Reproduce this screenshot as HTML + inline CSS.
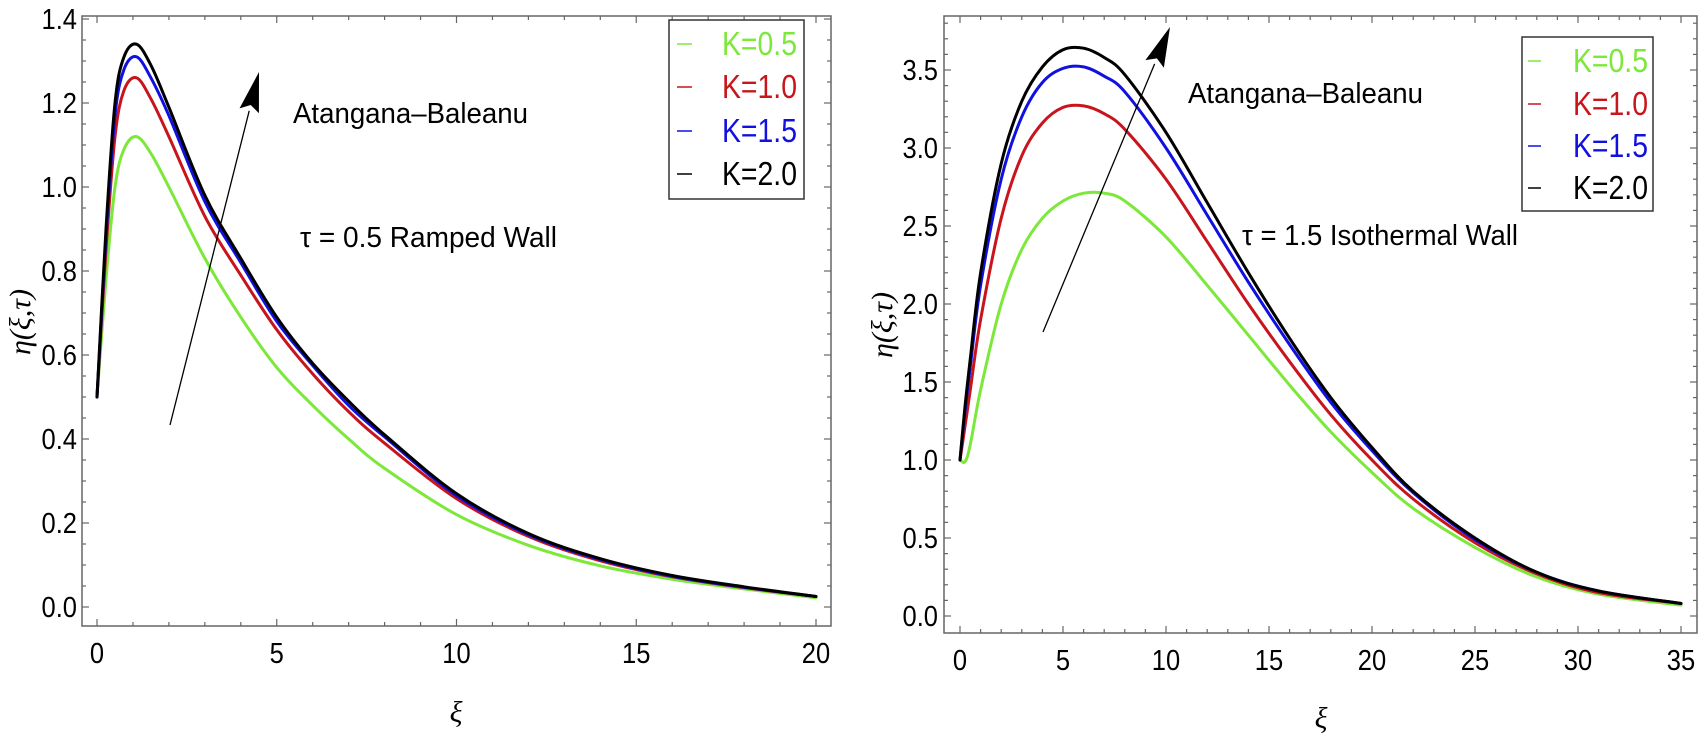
<!DOCTYPE html>
<html><head><meta charset="utf-8"><style>
html,body{margin:0;padding:0;background:#fff;}
svg{display:block;font-family:"Liberation Sans",sans-serif;}
</style></head><body>
<svg id="chart" width="1705" height="736" viewBox="0 0 1705 736" xmlns="http://www.w3.org/2000/svg">
</svg>
<script>
// ---- Left panel data (tau = 0.5, ramped wall) ----
const leftXi = [0,0.25,0.5,0.75,1.1,1.5,2,3,4,5,6,7,8,10,12,14,16,18,20];
const leftK20 = [0.5,0.9,1.2,1.31,1.34,1.29,1.19,0.98,0.83,0.69,0.58,0.49,0.41,0.27,0.175,0.115,0.075,0.048,0.025];
const leftK15 = [0.5,0.88,1.17,1.28,1.31,1.26,1.17,0.965,0.82,0.68,0.575,0.48,0.405,0.265,0.172,0.113,0.073,0.047,0.025];
const leftK10 = [0.5,0.85,1.12,1.23,1.26,1.21,1.12,0.93,0.79,0.66,0.555,0.465,0.39,0.258,0.168,0.11,0.072,0.046,0.025];
const leftK05 = [0.5,0.78,1.0,1.09,1.12,1.08,1.0,0.83,0.69,0.57,0.48,0.40,0.33,0.22,0.147,0.098,0.066,0.043,0.022];
const leftXTicks = [0,5,10,15,20];
const leftYTicks = [0.0,0.2,0.4,0.6,0.8,1.0,1.2,1.4];
// ---- Right panel data (tau = 1.5, isothermal wall) ----
const rightXi = [0,0.25,0.5,1,2,3,4,5,6,7,8,10,12,14,16,18,20,22,25,28,31,35];
const rightK20 = [1.0,1.35,1.65,2.2,2.9,3.3,3.52,3.63,3.64,3.58,3.47,3.1,2.65,2.2,1.78,1.4,1.08,0.8,0.5,0.28,0.16,0.08];
const rightK15 = [1.0,1.32,1.6,2.12,2.8,3.2,3.42,3.51,3.52,3.46,3.36,3.0,2.57,2.14,1.74,1.37,1.06,0.79,0.49,0.28,0.16,0.08];
const rightK10 = [1.0,1.22,1.45,1.9,2.55,2.95,3.16,3.26,3.27,3.22,3.12,2.8,2.4,2.0,1.63,1.29,1.0,0.75,0.47,0.27,0.15,0.08];
const rightK05 = [1.0,0.99,1.1,1.45,2.0,2.35,2.55,2.66,2.71,2.71,2.66,2.43,2.12,1.8,1.48,1.18,0.92,0.69,0.44,0.25,0.14,0.07];
const rightXTicks = [0,5,10,15,20,25,30,35];
const rightYTicks = [0.0,0.5,1.0,1.5,2.0,2.5,3.0,3.5];
const legendLabels = ["K=0.5","K=1.0","K=1.5","K=2.0"];
const seriesColors = ["#7be83a","#c8141c","#1010e0","#000000"];

const NS="http://www.w3.org/2000/svg";
const svg=document.getElementById('chart');
function mk(tag,attrs,parent){const e=document.createElementNS(NS,tag);for(const k in attrs)e.setAttribute(k,attrs[k]);(parent||svg).appendChild(e);return e;}

function smoothPath(pts){
  let d='M'+pts[0][0].toFixed(1)+','+pts[0][1].toFixed(1);
  for(let i=0;i<pts.length-1;i++){
    const p0=pts[Math.max(0,i-1)],p1=pts[i],p2=pts[i+1],p3=pts[Math.min(pts.length-1,i+2)];
    const c1x=p1[0]+(p2[0]-p0[0])/6,c1y=p1[1]+(p2[1]-p0[1])/6;
    const c2x=p2[0]-(p3[0]-p1[0])/6,c2y=p2[1]-(p3[1]-p1[1])/6;
    d+=` C${c1x.toFixed(1)},${c1y.toFixed(1)} ${c2x.toFixed(1)},${c2y.toFixed(1)} ${p2[0].toFixed(1)},${p2[1].toFixed(1)}`;
  }
  return d;
}

function panel(cfg){
  const g=mk('g',{});
  
  
  const sx=v=>cfg.x0px+v*cfg.xs;
  const sy=v=>cfg.y0px-v*cfg.ys;
  const fr=mk('rect',{x:cfg.L,y:cfg.T,width:cfg.R-cfg.L,height:cfg.B-cfg.T,fill:'none',stroke:'#666','stroke-width':1.5},g);
  
  
  for(let v=cfg.xmin;v<=cfg.xmax+1e-9;v+=cfg.xminor){
    const major=Math.abs(v/cfg.xmajor-Math.round(v/cfg.xmajor))<1e-6;
    const len=major?7:4;const X=sx(v);
    mk('line',{x1:X,x2:X,y1:cfg.B,y2:cfg.B-len,stroke:'#666','stroke-width':1.2},g);
    mk('line',{x1:X,x2:X,y1:cfg.T,y2:cfg.T+len,stroke:'#666','stroke-width':1.2},g);
  }
  for(let v=cfg.ymin;v<=cfg.ymax+1e-9;v+=cfg.yminor){
    const major=Math.abs(v/cfg.ymajor-Math.round(v/cfg.ymajor))<1e-6;
    const len=major?7:4;const Y=sy(v);
    if(Y<cfg.T||Y>cfg.B)continue;
    mk('line',{x1:cfg.L,x2:cfg.L+len,y1:Y,y2:Y,stroke:'#666','stroke-width':1.2},g);
    mk('line',{x1:cfg.R,x2:cfg.R-len,y1:Y,y2:Y,stroke:'#666','stroke-width':1.2},g);
  }
  cfg.xticks.forEach(v=>{
    const t=mk('text',{x:sx(v),y:cfg.xLabY,'text-anchor':'middle','font-size':29,fill:'#000',transform:`translate(${sx(v)},0) scale(0.88,1) translate(${-sx(v)},0)`},g);
    t.textContent=String(v);
    
    
  });
  cfg.yticks.forEach(v=>{
    const t=mk('text',{x:cfg.yLabX,y:sy(v)+10,'text-anchor':'end','font-size':29,fill:'#000',transform:`translate(${cfg.yLabX},0) scale(0.88,1) translate(${-cfg.yLabX},0)`},g);
    t.textContent=v.toFixed(1);
    
    
  });
  cfg.series.forEach((s,i)=>{
    const pts=cfg.xs_data.map((x,j)=>[sx(x),sy(s[j])]);
    const p=mk('path',{d:smoothPath(pts),fill:'none',stroke:seriesColors[i],'stroke-width':3,'stroke-linejoin':'round','stroke-linecap':'round'},g);
    
    
  });
  const xt=mk('text',{x:cfg.xTitleX,y:cfg.xTitleY,'text-anchor':'middle','font-size':30,'font-style':'italic','font-family':'"Liberation Serif",serif'},g);
  xt.textContent='ξ';
  
  
  const yt=mk('text',{x:0,y:0,'text-anchor':'middle','font-size':30,'font-style':'italic','font-family':'"Liberation Serif",serif',transform:`translate(${cfg.yTitleX},${cfg.yTitleY}) rotate(-90)`},g);
  yt.textContent='η(ξ,τ)';
  
  
  const a=cfg.arrow;
  const dx=a[2]-a[0],dy=a[3]-a[1],L=Math.hypot(dx,dy),ux=dx/L,uy=dy/L;
  const hl=40,hw=10;
  const bx=a[2]-ux*hl,by=a[3]-uy*hl;
  const ar=mk('line',{x1:a[0],y1:a[1],x2:bx,y2:by,stroke:'#000','stroke-width':1.3},g);
  
  
  const hd=mk('polygon',{points:`${a[2]},${a[3]} ${bx-uy*hw},${by+ux*hw} ${bx+ux*6},${by+uy*6} ${bx+uy*hw},${by-ux*hw}`,fill:'#000'},g);
  
  
  cfg.notes.forEach(n=>{
    const t=mk('text',{x:n[0],y:n[1],'font-size':29,textLength:n[3],lengthAdjust:'spacingAndGlyphs'},g);
    t.textContent=n[2];
    
    
  });
  const lg=mk('g',{},g);
  
  
  const lb=cfg.legend;
  mk('rect',{x:lb.x,y:lb.y,width:lb.w,height:lb.h,fill:'#fff',stroke:'#333','stroke-width':1.5},lg);
  legendLabels.forEach((lab,i)=>{
    const by=lb.base[i];
    const ln=mk('line',{x1:lb.dx1,x2:lb.dx2,y1:by-11,y2:by-11,stroke:seriesColors[i],'stroke-width':1.5},lg);
    
    
    const t=mk('text',{x:lb.tx,y:by,'text-anchor':'end','font-size':33,fill:seriesColors[i],textLength:lb.tw,lengthAdjust:'spacingAndGlyphs'},lg);
    t.textContent=lab;
    
    
  });
}

panel({name:'left-panel',L:82,R:831,T:16,B:626,x0px:97,xs:35.95,y0px:607,ys:420,
  xmin:0,xmax:20,xminor:1,xmajor:5,ymin:0,ymax:1.4,yminor:0.05,ymajor:0.2,
  xticks:leftXTicks,yticks:leftYTicks,xLabY:663,yLabX:77,xs_data:leftXi,
  series:[leftK05,leftK10,leftK15,leftK20],
  xTitleX:456,xTitleY:722,yTitleX:30,yTitleY:322,arrow:[170,425,259,72],
  notes:[[293,123,'Atangana–Baleanu',235,'method-label'],[300,247,'τ = 0.5 Ramped Wall',257,'condition-label']],
  legend:{x:669,y:20,w:135,h:179,dx1:677,dx2:692,tx:797,tw:75,base:[55,98,142,185]}});

panel({name:'right-panel',L:944,R:1697,T:16,B:633,x0px:960,xs:20.6,y0px:616,ys:156,
  xmin:0,xmax:35,xminor:1,xmajor:5,ymin:0,ymax:3.8,yminor:0.1,ymajor:0.5,
  xticks:rightXTicks,yticks:rightYTicks,xLabY:670,yLabX:938,xs_data:rightXi,
  series:[rightK05,rightK10,rightK15,rightK20],
  xTitleX:1321,xTitleY:728,yTitleX:892,yTitleY:325,arrow:[1043,332,1170,27],
  notes:[[1188,103,'Atangana–Baleanu',235,'method-label'],[1242,245,'τ = 1.5 Isothermal Wall',276,'condition-label']],
  legend:{x:1522,y:37,w:131,h:174,dx1:1528,dx2:1541,tx:1648,tw:75,base:[72,115,157,199]}});
</script>
</body></html>
